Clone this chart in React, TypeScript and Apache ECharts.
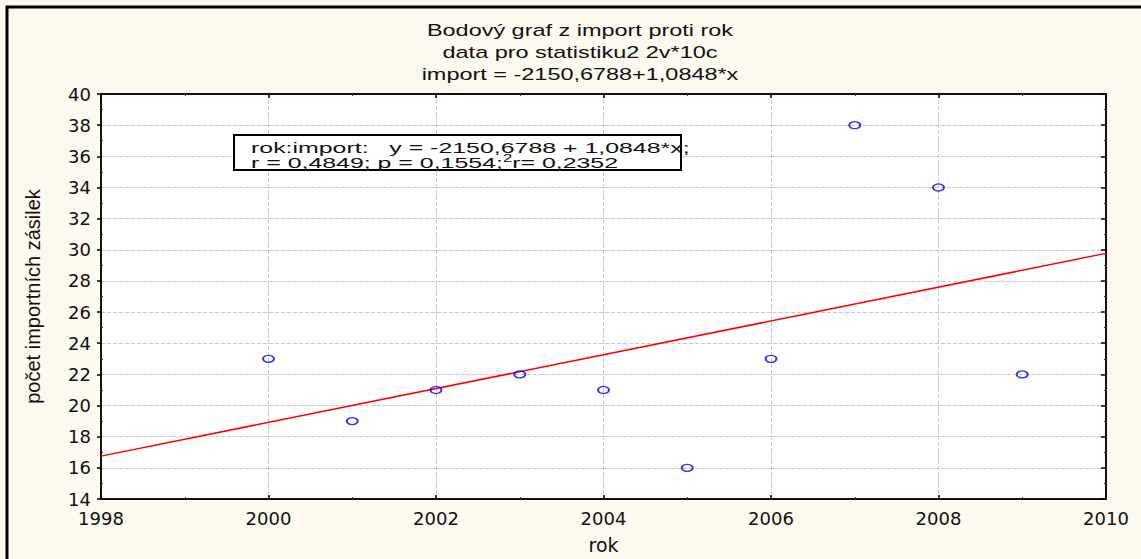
import React, { useEffect, useRef } from "react";
import * as echarts from "echarts";

// ---- data ----
const YEARS = [2000, 2001, 2002, 2003, 2004, 2005, 2006, 2007, 2008, 2009];
const IMPORTS = [23, 19, 21, 22, 21, 16, 23, 38, 34, 22];
const X_MIN = 1998;
const X_MAX = 2010;
const X_STEP = 2;
const Y_MIN = 14;
const Y_MAX = 40;
const Y_STEP = 2;
const INTERCEPT = -2150.6788;
const SLOPE = 1.0848;
const TITLE_LINES = [
  "Bodový graf z import proti rok",
  "data pro statistiku2 2v*10c",
  "import = -2150,6788+1,0848*x",
];
const STATS_LINE_1 = "rok:import:   y = -2150,6788 + 1,0848*x;";
const STATS_LINE_2 = "r = 0,4849; p = 0,1554;{sup|2}r= 0,2352";
const X_NAME = "rok";
const Y_NAME = "počet importních zásilek";

const BG = "#fdf9ee";
const LABEL_FONT = "DejaVu Sans";
const TEXT_FONT = "Liberation Sans";

export default function App() {
  const ref = useRef<HTMLDivElement>(null);

  useEffect(() => {
    document.body.style.margin = "0";
    if (!ref.current) return;
    const chart = echarts.init(ref.current, null, { renderer: "svg" });

    const points = YEARS.map((y, i) => [y, IMPORTS[i]]);
    const fit = [X_MIN, X_MAX].map((x) => [x, INTERCEPT + SLOPE * x]);

    const tickCommon = { lineStyle: { color: "#000", width: 1.5 } };
    const plain = (v: number) => String(v);

    const option: any = {
      animation: false,
      backgroundColor: BG,
      grid: {
        left: 101,
        top: 94,
        right: 35,
        bottom: 58,
        show: true,
        backgroundColor: "#ffffff",
        borderWidth: 0,
      },
      xAxis: [
        {
          type: "value",
          position: "bottom",
          min: X_MIN,
          max: X_MAX,
          interval: X_STEP,
          axisLine: { lineStyle: { color: "#111", width: 2 } },
          axisTick: { inside: true, length: 4, ...tickCommon },
          minorTick: { show: true, splitNumber: 2, length: 2, lineStyle: { color: "#333" } },
          splitLine: { show: true, lineStyle: { type: "dashed", color: "#c8c8c8", width: 1 } },
          axisLabel: {
            fontFamily: LABEL_FONT,
            fontSize: 18,
            color: "#111",
            margin: 10,
            formatter: plain,
          },
          name: X_NAME,
          nameLocation: "middle",
          nameGap: 36,
          nameTextStyle: { fontFamily: LABEL_FONT, fontSize: 19, color: "#111" },
        },
        {
          type: "value",
          position: "top",
          min: X_MIN,
          max: X_MAX,
          interval: X_STEP,
          axisLine: { lineStyle: { color: "#111", width: 2 } },
          axisTick: { inside: true, length: 4, ...tickCommon },
          minorTick: { show: true, splitNumber: 2, length: 2, lineStyle: { color: "#333" } },
          splitLine: { show: false },
          axisLabel: { show: false },
        },
      ],
      yAxis: [
        {
          type: "value",
          position: "left",
          min: Y_MIN,
          max: Y_MAX,
          interval: Y_STEP,
          axisLine: { show: true, lineStyle: { color: "#111", width: 2 } },
          axisTick: { show: true, inside: false, length: 4, ...tickCommon },
          splitLine: { show: true, lineStyle: { type: "dashed", color: "#c8c8c8", width: 1 } },
          axisLabel: {
            fontFamily: LABEL_FONT,
            fontSize: 18,
            color: "#111",
            margin: 10,
            formatter: plain,
          },
          name: Y_NAME,
          nameLocation: "middle",
          nameGap: 58,
          nameTextStyle: { fontFamily: TEXT_FONT, fontSize: 20, color: "#111" },
        },
        {
          type: "value",
          position: "left",
          min: Y_MIN,
          max: Y_MAX,
          interval: Y_STEP,
          axisLine: { show: false },
          axisTick: { show: false, inside: true },
          minorTick: { show: true, splitNumber: 2, length: 2, lineStyle: { color: "#333" } },
          splitLine: { show: false },
          axisLabel: { show: false },
        },
        {
          type: "value",
          position: "right",
          min: Y_MIN,
          max: Y_MAX,
          interval: Y_STEP,
          axisLine: { show: true, lineStyle: { color: "#111", width: 2 } },
          axisTick: { show: true, inside: true, length: 5, ...tickCommon },
          minorTick: { show: true, splitNumber: 2, length: 2, lineStyle: { color: "#333" } },
          splitLine: { show: false },
          axisLabel: { show: false },
        },
      ],
      series: [
        {
          type: "line",
          data: fit,
          xAxisIndex: 0,
          yAxisIndex: 0,
          showSymbol: false,
          symbol: "none",
          lineStyle: { color: "#ff0000", width: 1.5 },
          z: 3,
        },
        {
          type: "scatter",
          data: points,
          xAxisIndex: 0,
          yAxisIndex: 0,
          symbol: "circle",
          symbolSize: [11, 7],
          itemStyle: { color: "rgba(255,255,255,0)", borderColor: "#0000ff", borderWidth: 1.6 },
          z: 4,
        },
      ],
      graphic: [
        {
          type: "rect",
          shape: { x: 7, y: 7, width: 1300, height: 800 },
          style: { fill: "none", stroke: "#000", lineWidth: 3 },
          z: 100,
          silent: true,
        },
        ...TITLE_LINES.map((t, i) => ({
          type: "text",
          x: 580,
          y: 30 + i * 22,
          scaleX: 1.38,
          z: 100,
          style: {
            text: t,
            fontFamily: TEXT_FONT,
            fontSize: 17,
            fill: "#111",
            align: "center",
            verticalAlign: "middle",
          },
        })),
        {
          type: "rect",
          shape: { x: 234, y: 135, width: 447, height: 35 },
          style: { fill: "#ffffff", stroke: "#000", lineWidth: 2 },
          z: 100,
        },
        {
          type: "text",
          x: 251,
          y: 147.5,
          scaleX: 1.66,
          z: 101,
          style: {
            text: STATS_LINE_1,
            fontFamily: TEXT_FONT,
            fontSize: 15,
            fill: "#111",
            align: "left",
            verticalAlign: "middle",
          },
        },
        {
          type: "text",
          x: 251,
          y: 163,
          scaleX: 1.66,
          z: 101,
          style: {
            text: STATS_LINE_2,
            fontFamily: TEXT_FONT,
            fontSize: 15,
            fill: "#111",
            align: "left",
            verticalAlign: "middle",
            rich: {
              sup: {
                fontFamily: TEXT_FONT,
                fontSize: 10,
                fill: "#111",
                verticalAlign: "top",
                padding: [0, 0, 8, 0],
              },
            },
          },
        },
      ],
    };

    chart.setOption(option);
    return () => chart.dispose();
  }, []);

  return (
    <div
      ref={ref}
      style={{ width: 1141, height: 559, background: BG }}
    />
  );
}
